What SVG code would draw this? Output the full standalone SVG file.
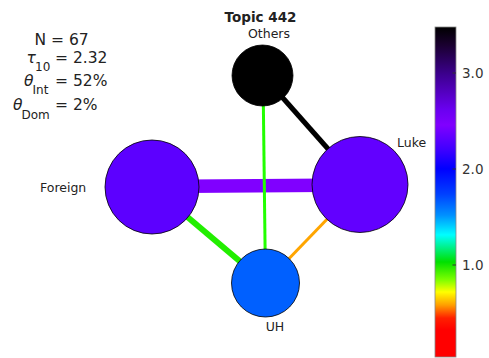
<svg xmlns="http://www.w3.org/2000/svg" width="489" height="358" viewBox="0 0 489 358">
  <defs>
    <linearGradient id="cmap" x1="0" y1="0" x2="0" y2="1">
      <stop offset="0" stop-color="#000000"/>
      <stop offset="0.055" stop-color="#1a0030"/>
      <stop offset="0.145" stop-color="#3d0090"/>
      <stop offset="0.25" stop-color="#6a00f0"/>
      <stop offset="0.297" stop-color="#8000ff"/>
      <stop offset="0.37" stop-color="#4000ff"/>
      <stop offset="0.43" stop-color="#0000ff"/>
      <stop offset="0.506" stop-color="#0040ff"/>
      <stop offset="0.57" stop-color="#0090ff"/>
      <stop offset="0.63" stop-color="#00ffff"/>
      <stop offset="0.712" stop-color="#00e000"/>
      <stop offset="0.767" stop-color="#80ff00"/>
      <stop offset="0.803" stop-color="#ffff00"/>
      <stop offset="0.842" stop-color="#ffa000"/>
      <stop offset="0.882" stop-color="#ff2000"/>
      <stop offset="0.918" stop-color="#ff0000"/>
      <stop offset="1" stop-color="#ff0000"/>
    </linearGradient>
  </defs>
  <style>
    text { font-family: "DejaVu Sans", "Liberation Sans", sans-serif; fill: #222; }
    .title { font-weight: bold; font-size: 13.5px; }
    .lbl { font-size: 12.5px; }
    .stat { font-size: 15.5px; }
    .sub { font-size: 12px; }
    .greek { font-style: italic; }
    .tick { font-size: 13.5px; fill: #333; }
    .node { stroke: #000; stroke-width: 0.8; }
    .edge { fill: none; stroke-linecap: butt; }
  </style>

  <rect width="489" height="358" fill="#fff"/>

  <!-- header and statistics -->
  <text class="title" x="260.5" y="21.5" text-anchor="middle">Topic 442</text>
  <g id="stats">
    <text class="stat" x="34.5" y="45">N = 67</text>
    <text class="stat greek" x="26.5" y="63">τ</text>
    <text class="sub" x="35" y="70.5">10</text>
    <text class="stat" x="55" y="63">= 2.32</text>
    <text class="stat greek" x="24" y="86">θ</text>
    <text class="sub" x="32.5" y="94">Int</text>
    <text class="stat" x="55" y="86">= 52%</text>
    <text class="stat greek" x="13" y="110">θ</text>
    <text class="sub" x="21.5" y="119">Dom</text>
    <text class="stat" x="55" y="110">= 2%</text>
  </g>

  <!-- connectors -->
  <g id="edges" class="edge">
    <line x1="152" y1="186.5" x2="360" y2="185" stroke="#8000ff" stroke-width="13.5"/>
    <line x1="263" y1="75.5" x2="360" y2="185" stroke="#000000" stroke-width="5"/>
    <line x1="263" y1="75.5" x2="265.5" y2="283" stroke="#22ff00" stroke-width="3"/>
    <line x1="152" y1="187" x2="265.5" y2="283" stroke="#22ee00" stroke-width="6"/>
    <line x1="360" y1="185" x2="265.5" y2="283" stroke="#ffa500" stroke-width="3"/>
  </g>

  <!-- nodes -->
  <g id="node-others">
    <circle class="node" cx="262.5" cy="75.5" r="30.5" fill="#000000"/>
    <text class="lbl" x="269" y="38" text-anchor="middle">Others</text>
  </g>
  <g id="node-foreign">
    <circle class="node" cx="152" cy="187" r="47" fill="#5c00ff"/>
    <text class="lbl" x="40" y="192">Foreign</text>
  </g>
  <g id="node-luke">
    <circle class="node" cx="360" cy="184.5" r="48" fill="#6200ff"/>
    <text class="lbl" x="397" y="147">Luke</text>
  </g>
  <g id="node-uh">
    <circle class="node" cx="265.5" cy="283" r="34" fill="#0060ff"/>
    <text class="lbl" x="275" y="331" text-anchor="middle">UH</text>
  </g>

  <!-- colour scale -->
  <g id="colorbar">
    <rect x="435" y="27" width="21" height="330" fill="url(#cmap)" stroke="#888" stroke-width="0.8"/>
    <line x1="452.5" y1="73" x2="456" y2="73" stroke="#333" stroke-width="1"/>
    <line x1="452.5" y1="169" x2="456" y2="169" stroke="#333" stroke-width="1"/>
    <line x1="452.5" y1="265" x2="456" y2="265" stroke="#333" stroke-width="1"/>
    <text class="tick" x="462" y="78">3.0</text>
    <text class="tick" x="462" y="174">2.0</text>
    <text class="tick" x="462" y="270">1.0</text>
  </g>
</svg>
